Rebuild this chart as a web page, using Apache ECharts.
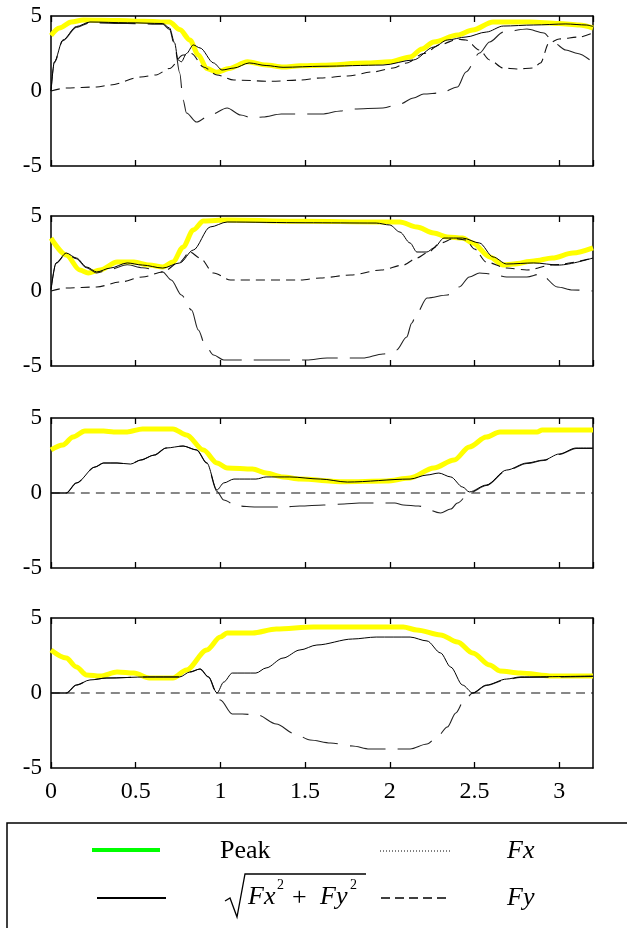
<!DOCTYPE html>
<html>
<head>
<meta charset="utf-8">
<script src="https://cdn.jsdelivr.net/npm/echarts@6/dist/echarts.min.js"></script>
<style>
  body { margin: 0; background: #fff; }
  #chart { width: 627px; height: 928px; }
</style>
</head>
<body>
<div id="chart"></div>
<script>
// x ticks (time) and y ticks
const xTicks = [0, 0.5, 1, 1.5, 2, 2.5, 3];
const yTicks = [-5, 0, 5];

// panel 1
const peak1 = [[0,3.7],[0.05,4.2],[0.12,4.6],[0.19,4.73],[0.4,4.7],[0.55,4.65],[0.7,4.6],[0.76,4.1],[0.82,3.4],[0.87,2.4],[0.92,1.5],[0.98,1.25],[1.05,1.5],[1.16,1.95],[1.27,1.73],[1.37,1.6],[1.47,1.68],[1.6,1.72],[1.86,1.86],[2.0,1.95],[2.12,2.27],[2.19,2.8],[2.26,3.27],[2.4,3.73],[2.49,4.07],[2.61,4.6],[2.83,4.6],[3.0,4.5],[3.12,4.4],[3.2,4.2]];
const mag1 = [[0,0],[0.02,1.95],[0.07,3.4],[0.15,4.3],[0.23,4.6],[0.45,4.55],[0.66,4.5],[0.7,4.2],[0.73,3.2],[0.75,2.07],[0.77,1.95],[0.8,2.5],[0.84,3.07],[0.88,2.87],[0.96,1.87],[1.01,1.4],[1.08,1.53],[1.17,1.87],[1.27,1.7],[1.37,1.58],[1.6,1.65],[1.96,1.73],[2.14,2.07],[2.26,2.93],[2.34,3.4],[2.45,3.6],[2.57,3.93],[2.67,4.33],[2.85,4.4],[3.04,4.47],[3.16,4.4],[3.2,4.3]];
const fx1 = [[0,0],[0.02,1.9],[0.07,3.35],[0.15,4.25],[0.23,4.55],[0.45,4.5],[0.66,4.45],[0.7,4.1],[0.73,3.0],[0.76,1.2],[0.78,-0.6],[0.8,-1.47],[0.86,-2.07],[0.94,-1.6],[1.04,-1.13],[1.12,-1.6],[1.19,-1.8],[1.25,-1.73],[1.36,-1.53],[1.6,-1.53],[1.71,-1.33],[1.78,-1.2],[1.96,-1.13],[2.06,-0.87],[2.14,-0.47],[2.2,-0.2],[2.3,-0.13],[2.4,0.27],[2.45,1.27],[2.53,2.53],[2.59,3.27],[2.67,3.93],[2.81,4.13],[2.91,3.87],[2.97,3.2],[3.04,2.73],[3.11,2.5],[3.2,1.9]];
const fy1 = [[0,0],[0.09,0.2],[0.27,0.27],[0.35,0.4],[0.53,0.93],[0.62,1.07],[0.7,1.5],[0.78,2.4],[0.83,2.5],[0.9,1.6],[0.98,1.07],[1.08,0.73],[1.3,0.65],[1.47,0.73],[1.59,0.87],[1.75,1.0],[1.9,1.27],[2.02,1.53],[2.1,1.87],[2.2,2.5],[2.3,3.1],[2.4,3.45],[2.45,3.4],[2.53,2.73],[2.59,2.07],[2.67,1.53],[2.75,1.47],[2.85,1.53],[2.89,1.87],[2.94,3.2],[3.0,3.47],[3.12,3.6],[3.2,3.87]];

// panel 2
const peak2 = [[0,3.53],[0.09,2.4],[0.17,1.4],[0.22,1.2],[0.29,1.4],[0.39,1.93],[0.49,1.93],[0.58,1.73],[0.66,1.6],[0.72,1.93],[0.78,2.93],[0.84,4.07],[0.9,4.67],[1.04,4.73],[1.5,4.65],[1.92,4.6],[2.06,4.6],[2.16,4.27],[2.26,3.87],[2.34,3.6],[2.43,3.53],[2.49,3.2],[2.59,2.27],[2.67,1.73],[2.73,1.8],[2.85,2.0],[2.96,2.2],[3.08,2.53],[3.2,2.87]];
const mag2 = [[0,0.1],[0.03,1.87],[0.09,2.53],[0.15,2.2],[0.21,1.6],[0.27,1.27],[0.35,1.53],[0.45,1.87],[0.54,1.73],[0.66,1.53],[0.76,1.87],[0.84,2.73],[0.94,4.27],[1.04,4.6],[1.5,4.55],[1.92,4.53],[2.0,4.4],[2.06,3.93],[2.12,3.2],[2.16,2.6],[2.22,2.6],[2.26,2.87],[2.32,3.53],[2.43,3.53],[2.53,3.2],[2.61,2.27],[2.69,1.8],[2.85,1.87],[3.0,1.73],[3.2,2.2]];
const fx2 = [[0,0.1],[0.03,1.85],[0.09,2.5],[0.15,2.15],[0.21,1.55],[0.27,1.2],[0.35,1.45],[0.45,1.75],[0.54,1.55],[0.66,1.27],[0.71,0.73],[0.77,-0.27],[0.83,-1.27],[0.87,-2.6],[0.91,-3.6],[0.96,-4.27],[1.02,-4.6],[1.51,-4.6],[1.63,-4.47],[1.84,-4.47],[1.96,-4.2],[2.04,-3.93],[2.1,-3.07],[2.13,-2.13],[2.16,-1.47],[2.22,-0.47],[2.34,-0.27],[2.41,0.27],[2.47,0.93],[2.53,1.2],[2.61,1.13],[2.69,0.93],[2.81,0.93],[2.89,1.13],[2.99,0.27],[3.08,0.07],[3.2,0]];
const fy2 = [[0,0],[0.09,0.2],[0.27,0.27],[0.41,0.6],[0.54,0.93],[0.66,1.27],[0.76,1.93],[0.82,2.6],[0.88,2.2],[0.96,1.2],[1.06,0.73],[1.47,0.73],[1.59,0.87],[1.77,1.07],[1.95,1.4],[2.08,1.73],[2.16,2.2],[2.22,2.53],[2.3,3.2],[2.38,3.5],[2.45,3.4],[2.5,2.8],[2.57,1.93],[2.69,1.53],[2.81,1.4],[2.96,1.73],[3.2,2.2]];

// panel 3
const peak3 = [[0,2.87],[0.07,3.2],[0.13,3.73],[0.2,4.13],[0.31,4.13],[0.37,4.07],[0.45,4.07],[0.54,4.27],[0.72,4.27],[0.8,3.87],[0.9,2.87],[0.98,2.0],[1.04,1.67],[1.19,1.6],[1.27,1.33],[1.37,1.07],[1.47,0.93],[1.73,0.75],[1.98,0.8],[2.12,1.0],[2.26,1.67],[2.38,2.2],[2.47,3.07],[2.57,3.73],[2.65,4.07],[2.87,4.07],[2.9,4.2],[3.2,4.2]];
const mag3 = [[0,0],[0.09,0],[0.15,0.67],[0.26,1.73],[0.31,2.0],[0.39,2.0],[0.47,1.93],[0.53,2.2],[0.61,2.53],[0.68,3.0],[0.78,3.13],[0.86,2.87],[0.92,2.0],[0.98,0.2],[1.02,0.67],[1.08,0.93],[1.21,0.93],[1.27,1.07],[1.41,1.07],[1.59,0.93],[1.75,0.73],[2.12,0.93],[2.22,1.2],[2.29,1.33],[2.36,1.07],[2.43,0.4],[2.47,0.07],[2.57,0.53],[2.69,1.53],[2.81,2.0],[2.91,2.2],[3.0,2.6],[3.1,3.0],[3.2,3.0]];
const fx3 = [[0,0],[0.09,0],[0.15,0.67],[0.26,1.73],[0.31,2.0],[0.39,2.0],[0.47,1.93],[0.53,2.2],[0.61,2.53],[0.68,3.0],[0.78,3.13],[0.86,2.87],[0.92,2.0],[0.98,0.1],[1.02,-0.47],[1.1,-0.87],[1.21,-0.93],[1.37,-0.93],[1.47,-0.87],[1.61,-0.8],[1.73,-0.73],[1.82,-0.67],[2.03,-0.67],[2.08,-0.8],[2.17,-0.87],[2.3,-1.33],[2.36,-1.07],[2.4,-0.67],[2.47,0],[2.57,0.5],[2.69,1.5],[2.81,1.97],[2.91,2.17],[3.0,2.57],[3.1,2.97],[3.2,2.97]];
const fy3 = [[0,0],[1.6,0],[3.2,0]];

// panel 4
const peak4 = [[0,2.87],[0.09,2.33],[0.15,1.73],[0.21,1.2],[0.29,1.13],[0.39,1.4],[0.49,1.33],[0.58,1.0],[0.72,1.0],[0.8,1.53],[0.92,2.87],[1.0,3.73],[1.04,4.0],[1.19,4.0],[1.33,4.27],[1.55,4.4],[2.08,4.4],[2.16,4.2],[2.3,3.87],[2.4,3.4],[2.49,2.67],[2.59,1.87],[2.65,1.47],[2.77,1.33],[2.96,1.13],[3.2,1.13]];
const mag4 = [[0,0],[0.09,0],[0.15,0.53],[0.23,0.87],[0.33,1.0],[0.57,1.07],[0.76,1.07],[0.82,1.4],[0.88,1.6],[0.93,1.07],[0.98,0],[1.02,0.73],[1.07,1.33],[1.21,1.33],[1.27,1.67],[1.37,2.33],[1.47,2.87],[1.57,3.2],[1.78,3.6],[1.92,3.73],[2.12,3.73],[2.22,3.47],[2.3,2.67],[2.36,1.73],[2.43,0.53],[2.49,0],[2.57,0.53],[2.69,0.93],[2.77,1.07],[3.2,1.13]];
const fx4 = [[0,0],[0.09,0],[0.15,0.53],[0.23,0.87],[0.33,1.0],[0.57,1.07],[0.76,1.07],[0.82,1.4],[0.88,1.6],[0.93,1.07],[0.98,-0.1],[1.0,-0.47],[1.07,-1.4],[1.13,-1.4],[1.22,-1.47],[1.33,-2.07],[1.44,-2.73],[1.53,-3.13],[1.65,-3.33],[1.78,-3.53],[1.88,-3.73],[2.12,-3.73],[2.22,-3.4],[2.28,-2.93],[2.34,-2.27],[2.39,-1.33],[2.44,-0.47],[2.49,0],[2.57,0.5],[2.69,0.9],[2.77,1.04],[3.2,1.1]];
const fy4 = [[0,0],[1.6,0],[3.2,0]];

const panels = [
  { peak: peak1, mag: mag1, fx: fx1, fy: fy1 },
  { peak: peak2, mag: mag2, fx: fx2, fy: fy2 },
  { peak: peak3, mag: mag3, fx: fx3, fy: fy3 },
  { peak: peak4, mag: mag4, fx: fx4, fy: fy4 }
];

const serif = 'Liberation Serif';
const tops = [16, 216, 418, 618];

const grid = [], xAxis = [], yAxis = [], series = [];
const border = { show: true, onZero: false, lineStyle: { color: '#000', width: 1.5 } };
// value axes hide ticks by default, so switch them on
const tick = { show: true, inside: true, length: 6, lineStyle: { color: '#000', width: 1.3 } };
panels.forEach((p, i) => {
  grid.push({ left: 51, right: 34, top: tops[i], height: 150 });
  const last = i === panels.length - 1;
  // bottom axis
  xAxis.push({
    type: 'value', gridIndex: i, position: 'bottom', min: 0, max: 3.2, interval: 0.5,
    axisLine: border, axisTick: tick,
    axisLabel: { show: last, showMaxLabel: false, color: '#000', fontFamily: serif, fontSize: 24, margin: 12 },
    splitLine: { show: false }
  });
  // top border
  xAxis.push({
    type: 'value', gridIndex: i, position: 'top', min: 0, max: 3.2, interval: 0.5,
    axisLine: border, axisTick: tick,
    axisLabel: { show: false }, splitLine: { show: false }
  });
  yAxis.push({
    type: 'value', gridIndex: i, position: 'left', min: -5, max: 5, interval: 5,
    axisLine: border,
    axisTick: { show: false },
    axisLabel: { color: '#000', fontFamily: serif, fontSize: 23, margin: 9 },
    splitLine: { show: false }
  });
  yAxis.push({
    type: 'value', gridIndex: i, position: 'right', min: -5, max: 5, interval: 5,
    axisLine: border,
    axisTick: { show: false }, axisLabel: { show: false }, splitLine: { show: false }
  });
  const base = { type: 'line', xAxisIndex: i * 2, yAxisIndex: i * 2, showSymbol: false, smooth: 0.3, smoothMonotone: 'x' };
  series.push({ ...base, name: 'Peak', data: p.peak, lineStyle: { color: '#ffff00', width: 5 } });
  series.push({ ...base, name: 'Fx', data: p.fx, lineStyle: { color: '#222', width: 1.1, type: [36, 12] } });
  series.push({ ...base, name: 'Fy', data: p.fy, lineStyle: { color: '#111', width: 1.1, type: [9, 6] } });
  series.push({ ...base, name: 'Mag', data: p.mag, lineStyle: { color: '#000', width: 1 } });
});

// legend box drawn by hand (2x2 layout with the root formula)
const lgFont = '26px "Liberation Serif"';
const lgItalic = 'italic 26px "Liberation Serif"';
const supFont = '14px "Liberation Serif"';
const graphic = [
  { type: 'rect', shape: { x: 7, y: 823, width: 660, height: 130 }, style: { fill: 'none', stroke: '#000', lineWidth: 1.5 } },
  { type: 'line', shape: { x1: 92, y1: 850, x2: 160, y2: 850 }, style: { stroke: '#00ff00', lineWidth: 4 } },
  { type: 'text', x: 220, y: 851, style: { text: 'Peak', font: lgFont, fill: '#000', verticalAlign: 'middle' } },
  { type: 'line', shape: { x1: 380, y1: 851, x2: 450, y2: 851 }, style: { stroke: '#000', lineWidth: 1, lineDash: [1, 2] } },
  { type: 'text', x: 507, y: 851, style: { text: 'Fx', font: lgItalic, fill: '#000', verticalAlign: 'middle' } },
  { type: 'line', shape: { x1: 97, y1: 898, x2: 166, y2: 898 }, style: { stroke: '#000', lineWidth: 2 } },
  { type: 'polyline', shape: { points: [[225, 901], [230, 898], [237, 917], [245, 874], [366, 874]] }, style: { stroke: '#000', lineWidth: 1.3, fill: 'none' } },
  { type: 'text', x: 248, y: 897, style: { text: 'Fx', font: lgItalic, fill: '#000', verticalAlign: 'middle' } },
  { type: 'text', x: 277, y: 885, style: { text: '2', font: supFont, fill: '#000', verticalAlign: 'middle' } },
  { type: 'text', x: 292, y: 898, style: { text: '+', font: lgFont, fill: '#000', verticalAlign: 'middle' } },
  { type: 'text', x: 320, y: 897, style: { text: 'Fy', font: lgItalic, fill: '#000', verticalAlign: 'middle' } },
  { type: 'text', x: 350, y: 885, style: { text: '2', font: supFont, fill: '#000', verticalAlign: 'middle' } },
  { type: 'line', shape: { x1: 381, y1: 898, x2: 446, y2: 898 }, style: { stroke: '#000', lineWidth: 1.5, lineDash: [9, 5] } },
  { type: 'text', x: 507, y: 898, style: { text: 'Fy', font: lgItalic, fill: '#000', verticalAlign: 'middle' } }
];

const mychart = echarts.init(document.getElementById('chart'));
mychart.setOption({
  animation: false,
  backgroundColor: '#fff',
  textStyle: { fontFamily: serif },
  grid, xAxis, yAxis, series, graphic
});
</script>
</body>
</html>
